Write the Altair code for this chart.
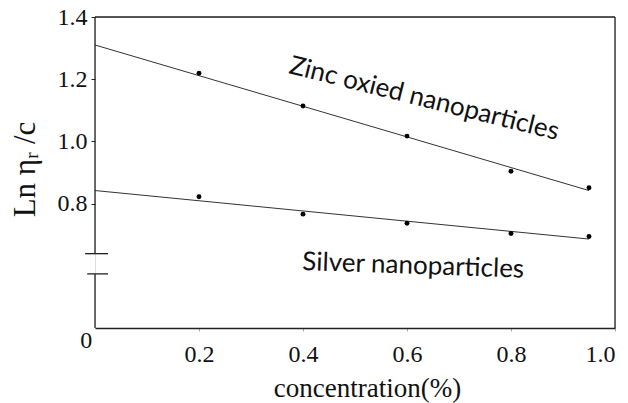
import altair as alt
import pandas as pd

conc = [0.2, 0.4, 0.6, 0.8, 0.95]
zinc = [1.219, 1.114, 1.017, 0.904, 0.851]
silver = [0.822, 0.766, 0.737, 0.704, 0.694]

fit_x = [0.0, 0.95]
zinc_fit = [1.31, 0.842]
silver_fit = [0.842, 0.686]

x_ticks = [0.2, 0.4, 0.6, 0.8, 1.0]
y_ticks = [0.8, 1.0, 1.2, 1.4]

# axis break positions (data units)
break_low, break_high = 0.574, 0.639

pts = pd.DataFrame({
    "x": conc * 2,
    "y": zinc + silver,
    "s": ["Zinc"] * len(conc) + ["Silver"] * len(conc),
})
fits = pd.DataFrame({
    "x": fit_x * 2,
    "y": zinc_fit + silver_fit,
    "s": ["Zinc"] * 2 + ["Silver"] * 2,
})

W, H = 520, 311
xs = alt.Scale(domain=[0, 1.0], nice=False, zero=False)
ys = alt.Scale(domain=[0.4, 1.4], nice=False, zero=False)

serif = "Liberation Serif"

base_x = alt.X("x:Q", scale=xs, axis=alt.Axis(
    values=x_ticks, format=".1f", labelFont=serif, labelFontSize=24,
    labelColor="#111", labelPadding=11, tickSize=3, tickColor="#aaa",
    domainColor="#222", domainWidth=1.3, grid=False,
    title="concentration(%)", titleFont=serif, titleFontSize=27,
    titleFontWeight="normal", titleColor="#111",
    titleX=272, titleY=60, titleBaseline="middle", titleAlign="center"))
base_y = alt.Y("y:Q", scale=ys, axis=alt.Axis(
    values=y_ticks, format=".1f", labelFont=serif, labelFontSize=24,
    labelColor="#111", labelPadding=4, tickSize=4, tickColor="#222",
    domain=False, grid=False,
    title="Ln ηᵣ /c", titleFont=serif, titleFontSize=31,
    titleFontWeight="normal", titleColor="#111", titleAngle=-90,
    titleX=-70, titleY=152, titleBaseline="middle", titleAlign="center"))

lines = alt.Chart(fits).mark_line(color="#333", strokeWidth=1).encode(
    x=base_x, y=base_y, detail="s:N")
dots = alt.Chart(pts).mark_circle(color="black", opacity=1, size=24).encode(
    x="x:Q", y="y:Q")

# frame: top and right borders
frame_h = pd.DataFrame({"x": [0.0], "x2": [1.0], "y": [1.4]})
frame_v = pd.DataFrame({"x": [1.0], "y": [0.4], "y2": [1.4]})
top = alt.Chart(frame_h).mark_rule(color="#222", strokeWidth=1.3).encode(
    x="x:Q", x2="x2:Q", y="y:Q")
right = alt.Chart(frame_v).mark_rule(color="#222", strokeWidth=1.3).encode(
    x="x:Q", y="y:Q", y2="y2:Q")

# left axis with break
left_seg = pd.DataFrame({"x": [0.0, 0.0], "y": [0.4, break_high],
                         "y2": [break_low, 1.4]})
left = alt.Chart(left_seg).mark_rule(color="#222", strokeWidth=1.3).encode(
    x="x:Q", y="y:Q", y2="y2:Q")
caps = pd.DataFrame({"x": [-0.019, -0.015], "x2": [0.025, 0.025],
                     "y": [break_high, break_low]})
cap = alt.Chart(caps).mark_rule(color="#222", strokeWidth=1.3).encode(
    x="x:Q", x2="x2:Q", y="y:Q")

labels = pd.DataFrame({
    "x": [0.633, 0.612],
    "y": [1.137, 0.600],
    "t": ["Zinc oxied nanoparticles", "Silver nanoparticles"],
})
zinc_lab = alt.Chart(labels.iloc[[0]]).mark_text(
    font="Lato", fontSize=26, angle=14, color="#111").encode(
    x="x:Q", y="y:Q", text="t:N")
silver_lab = alt.Chart(labels.iloc[[1]]).mark_text(
    font="Lato", fontSize=26, angle=2, color="#111").encode(
    x="x:Q", y="y:Q", text="t:N")

origin = pd.DataFrame({"x": [-0.017], "y": [0.358], "t": ["0"]})
origin_lab = alt.Chart(origin).mark_text(
    font=serif, fontSize=24, color="#111").encode(
    x="x:Q", y="y:Q", text="t:N")

chart = alt.layer(lines, dots, top, right, left, cap, zinc_lab, silver_lab,
                  origin_lab).properties(
    width=W, height=H,
    autosize=alt.AutoSizeParams(type="none"),
    padding={"left": 87, "top": 9, "right": 5, "bottom": 75},
).configure_view(stroke=None).configure(background="white")

chart.save("out.html", embed_options={"renderer": "svg", "actions": False})
